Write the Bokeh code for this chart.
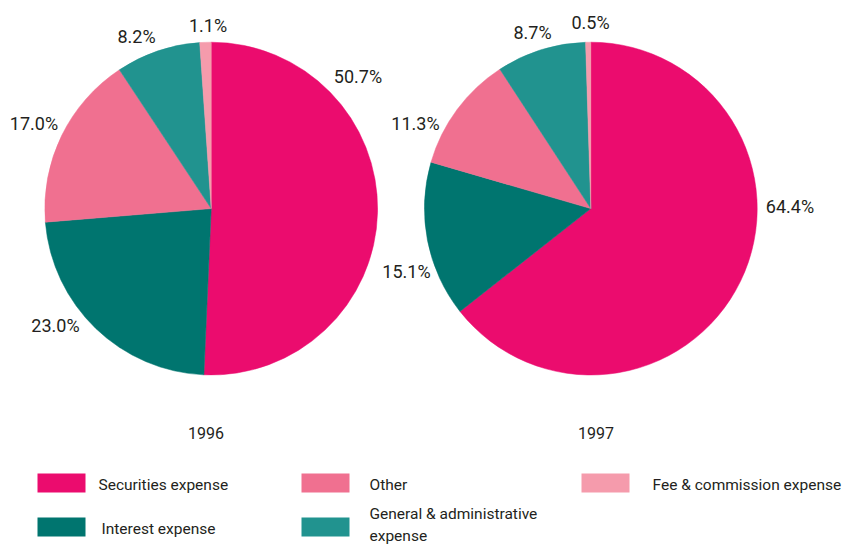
import math
from bokeh.plotting import figure
from bokeh.models import Range1d, ColumnDataSource
from bokeh.core.properties import value
from bokeh.embed import file_html
from bokeh.resources import INLINE

# ---- data ----
years = ["1996", "1997"]
categories = ["Securities expense", "Interest expense", "Other",
              "General & administrative expense", "Fee & commission expense"]
values_1996 = [50.7, 23.0, 17.0, 8.2, 1.1]
values_1997 = [64.4, 15.1, 11.3, 8.7, 0.5]
colors = ["#EB0C6E", "#00756F", "#F07090", "#21938F", "#F59BAC"]

# ---- layout (screen-pixel based) ----
W, H = 843, 545
FONT = "Roboto"
TXT = "#231F20"
centers = [(210.7, 208.1), (590.3, 208.1)]
radius = 166.4
label_offsets = [
    [(146.8, -132.1), (-155.7, 116.4), (-177.2, -85.6), (-74.7, -172.1), (-3.2, -183.1)],
    [(199.2, -2.6), (-184.3, 62.4), (-175.3, -85.6), (-58.3, -176.1), (-0.3, -186.1)],
]
year_label_pos = [(205.5, 432.5), (595.5, 432.5)]
legend_rect = [(61, 482.5), (61, 526.5), (325, 482.5), (325, 526.5), (605, 482.5)]
legend_text = [(98, 484), (101, 528), (369, 484), (369, 513), (652, 484)]
line_gap = 22


def fy(y):
    return H - y


p = figure(width=W, height=H, output_backend="svg", toolbar_location=None,
           x_range=Range1d(0, W), y_range=Range1d(0, H),
           x_axis_type=None, y_axis_type=None, min_border=0)
p.outline_line_color = None
p.grid.visible = False
p.background_fill_color = "white"

for vals, (cx, cy), offs, yr, (yx, yy) in zip([values_1996, values_1997], centers,
                                              label_offsets, years, year_label_pos):
    total = sum(vals)
    cum = 0.0
    starts, ends = [], []
    for v in vals:
        a0 = math.pi / 2 - 2 * math.pi * cum / total
        cum += v
        a1 = math.pi / 2 - 2 * math.pi * cum / total
        starts.append(a1)
        ends.append(a0)
    src = ColumnDataSource(dict(x=[cx] * len(vals), y=[fy(cy)] * len(vals),
                                s=starts, e=ends, c=colors))
    p.wedge(x="x", y="y", radius=radius, start_angle="s", end_angle="e",
            direction="anticlock", fill_color="c", line_color="c", line_width=0.5,
            source=src)
    lsrc = ColumnDataSource(dict(
        x=[cx + dx for dx, dy in offs],
        y=[fy(cy + dy) for dx, dy in offs],
        t=["%.1f%%" % v for v in vals]))
    p.text(x="x", y="y", text="t", source=lsrc, text_font=value(FONT),
           text_font_size="18px", text_align="center", text_baseline="middle",
           text_color=TXT)
    p.text(x=[yx], y=[fy(yy)], text=[yr], text_font=value(FONT),
           text_font_size="16px", text_align="center", text_baseline="middle",
           text_color=TXT)

# legend
for (rx, ry), (tx, ty), lab, col in zip(legend_rect, legend_text, categories, colors):
    p.rect(x=[rx], y=[fy(ry)], width=48, height=19, fill_color=col, line_color=None)
    lines = [lab]
    if lab.startswith("General"):
        lines = lab.rsplit(" ", 1)
    for i, ln in enumerate(lines):
        p.text(x=[tx], y=[fy(ty + i * line_gap)], text=[ln], text_font=value(FONT),
               text_font_size="15.5px", text_align="left", text_baseline="middle",
               text_color=TXT)

open("out.html", "w").write(file_html(p, INLINE))
